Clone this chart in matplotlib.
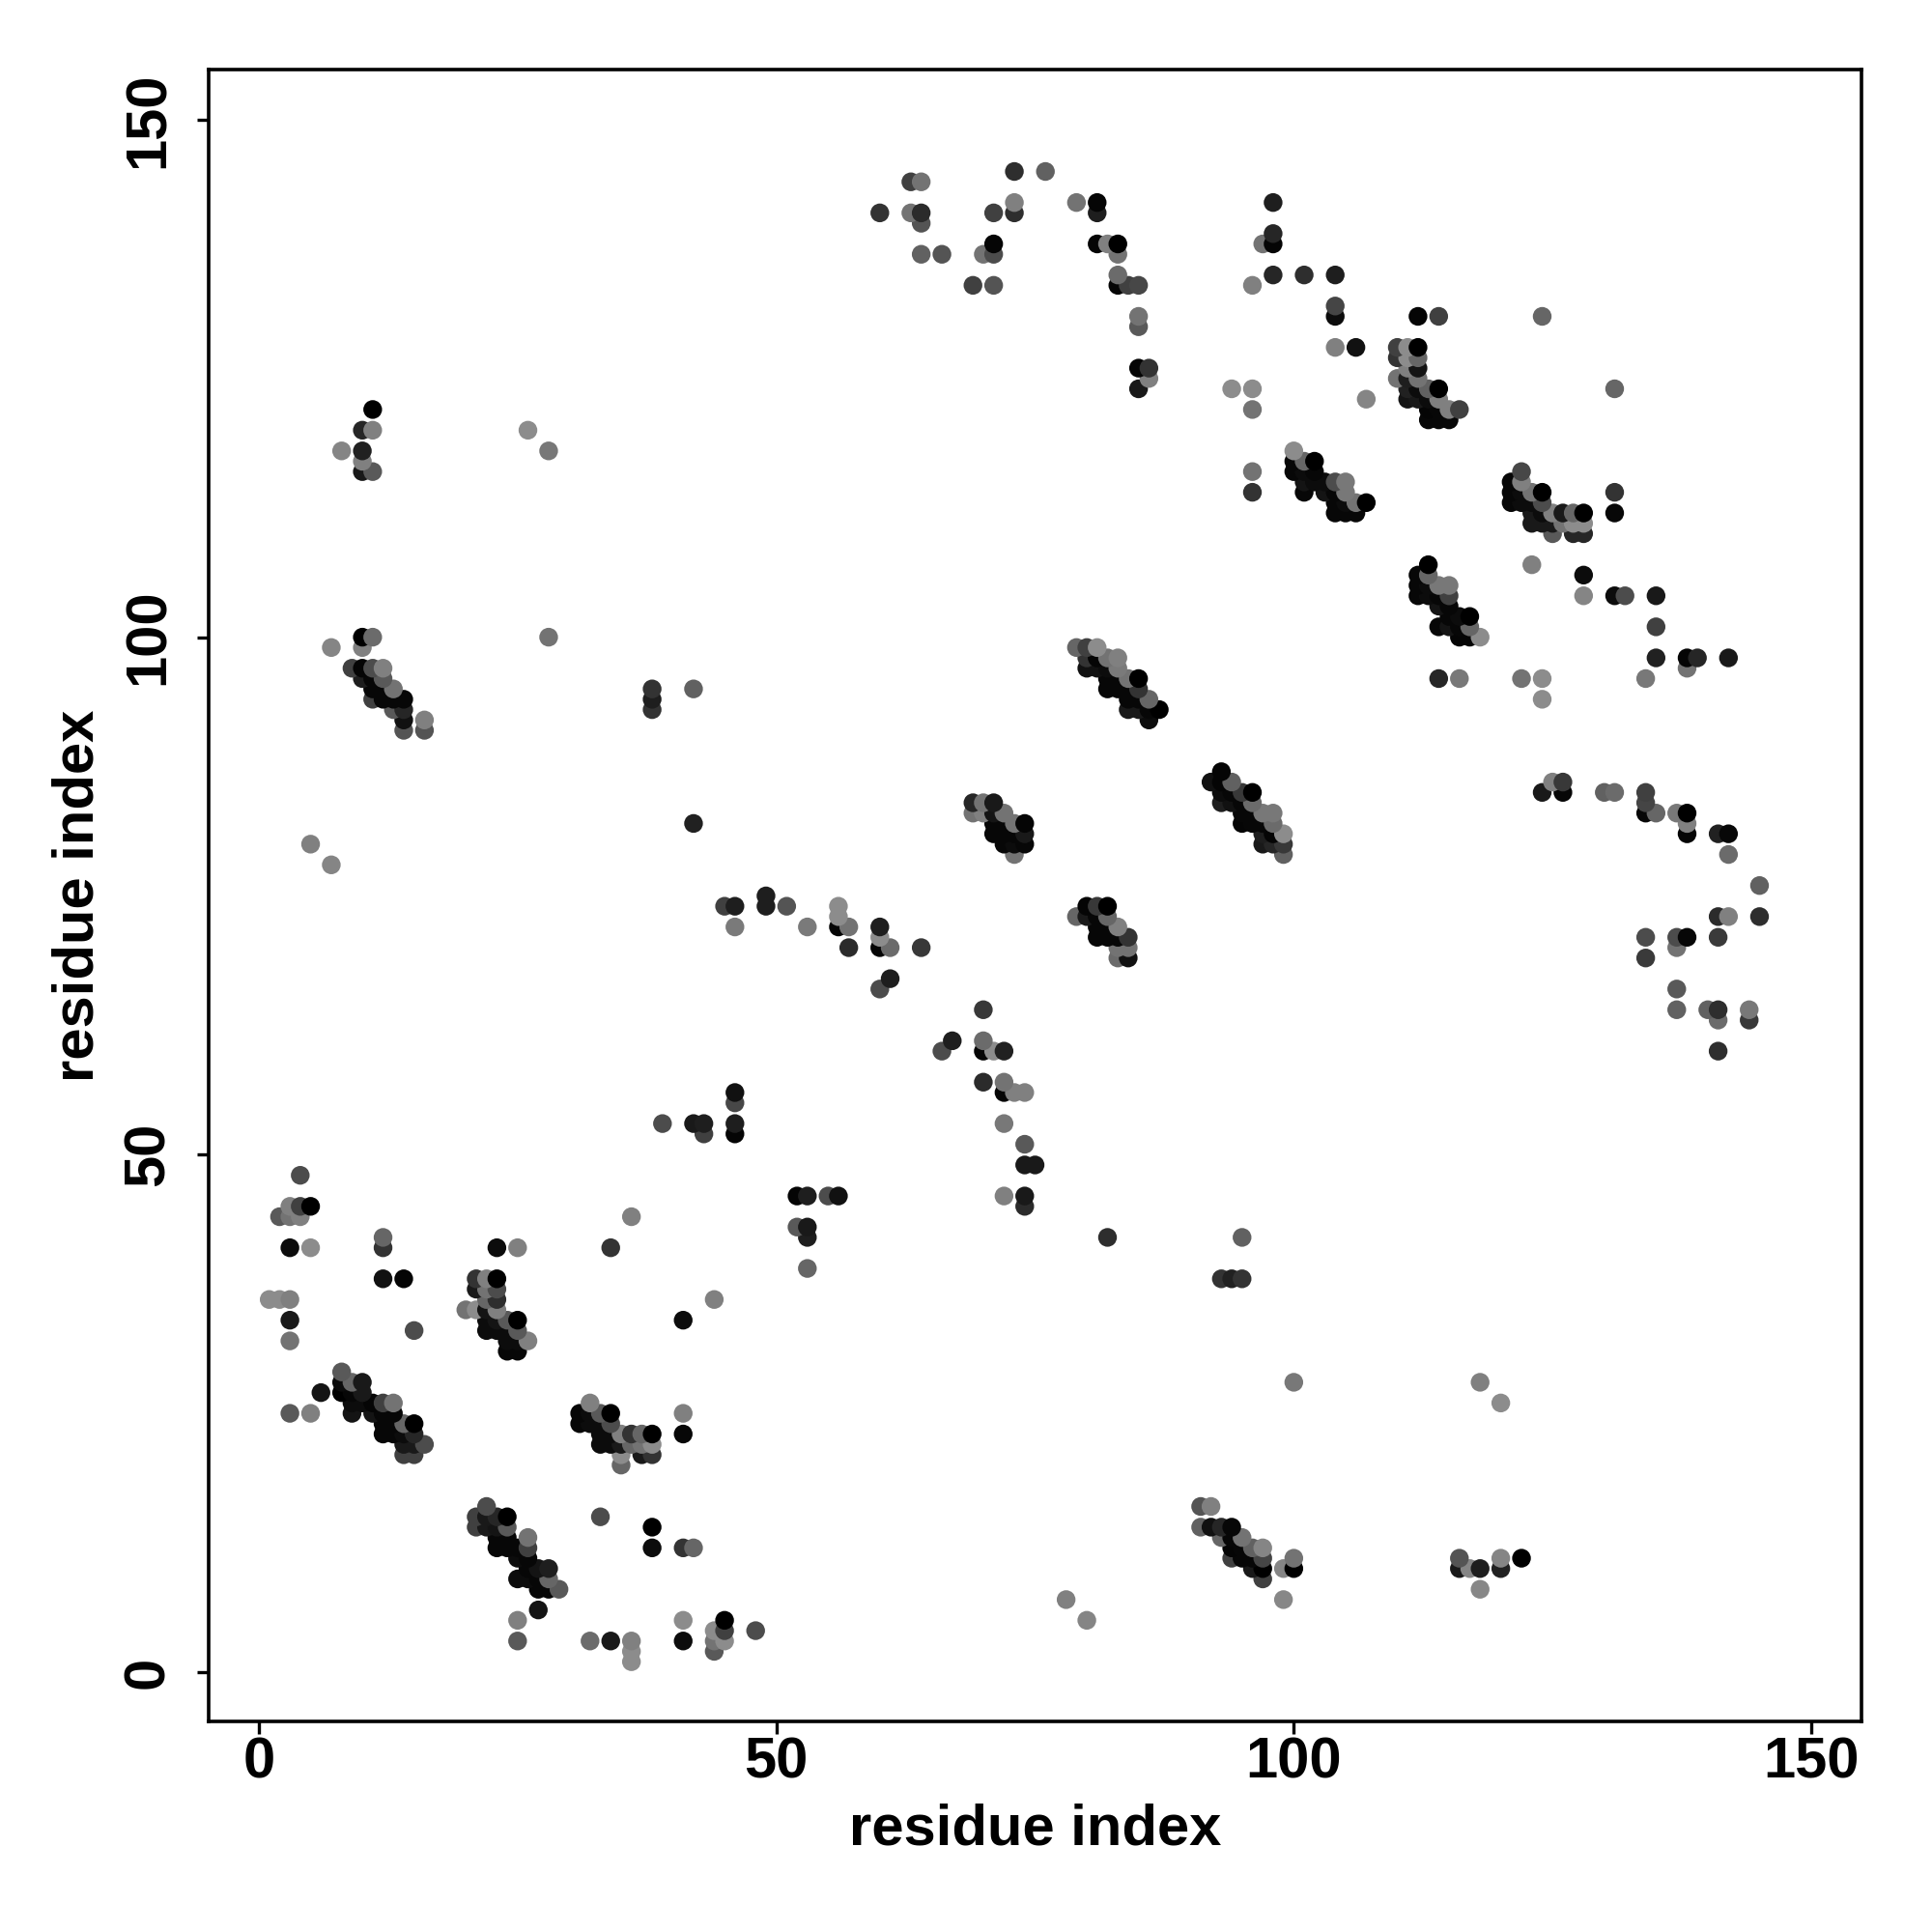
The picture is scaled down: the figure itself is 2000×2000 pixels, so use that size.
import numpy as np
import matplotlib
matplotlib.use('Agg')
import matplotlib.pyplot as plt

# contacts: (residue i, residue j, grey level)
strand_a = [(8,29,.35),(8,28,.05),(9,28,.4),(10,28,.1),(8,27,0),(9,27,.03),(10,27,.1),(9,26,.05),(10,26,.05),
            (11,26,.02),(12,26,.25),(13,26,.45),(9,25,.08),(11,25,.08),(12,25,.03),(13,25,.03),(12,24,.03),
            (13,24,.03),(14,24,.4),(15,24,0),(12,23,.03),(13,23,.03),(14,23,.05),(15,23,.15),(14,22,.1),
            (15,22,.1),(16,22,.3),(14,21,.25),(15,21,.25)]
strand_b = [(21,38,.2),(22,38,.5),(23,38,0),(21,37,.1),(22,37,.45),(23,37,.3),(22,36,.4),(23,36,.18),(20,35,.45),
            (21,35,.55),(22,35,.08),(23,35,.5),(22,34,.05),(23,34,.08),(24,34,.35),(25,34,0),(22,33,.05),
            (23,33,.05),(24,33,.05),(25,33,.35),(24,32,.05),(25,32,.05),(26,32,.5),(24,31,.03),(25,31,.03)]
strand_c = [(32,26,.5),(31,25,.03),(32,25,.05),(33,25,.35),(34,25,0),(31,24,.03),(32,24,.05),(33,24,.05),(34,24,.3),
            (33,23,.05),(34,23,.05),(35,23,.5),(36,23,.2),(37,23,.4),(38,23,0),(33,22,.05),(34,22,.05),(35,22,.1),
            (36,22,.4),(37,22,.45),(38,22,.55),(35,21,.55),(37,21,.1),(38,21,.2),(35,20,.4)]
strand_d = [(22,16,.3),(21,15,.25),(22,15,.1),(23,15,.15),(24,15,0),(21,14,.25),(22,14,.1),(23,14,.08),(24,14,.35),
            (23,13,.03),(24,13,.03),(26,13,.45),(23,12,.03),(24,12,.03),(25,12,.03),(26,12,.25),(25,11,.05),
            (26,11,.03),(26,10,.03),(27,10,.08),(28,10,.12),(25,9,.05),(26,9,.05),(27,9,.03),(28,9,.4),(27,8,.03),
            (28,8,.03),(29,8,.35)]
strand_e = [(9,97,.25),(10,97,.02),(11,97,.3),(12,97,.5),(10,96,.12),(11,96,.03),(12,96,.35),(11,95,.03),(12,95,.03),
            (13,95,.45),(11,94,.25),(12,94,.03),(13,94,.03),(14,94,.03),(13,93,.35),(14,93,.15),(14,92,.07),
            (16,92,.5),(14,91,.33),(16,91,.33)]
strand_f = [(79,99,.4),(80,99,.25),(81,99,.55),(80,98,.2),(81,98,.02),(82,98,.45),(83,98,.5),(80,97,.07),(81,97,.07),
            (82,97,.05),(83,97,.48),(82,96,.03),(83,96,.03),(84,96,.45),(85,96,0),(82,95,.03),(83,95,.03),(84,95,.03),
            (85,95,.2),(84,94,.03),(85,94,.03),(86,94,.4),(84,93,.1),(85,93,.1),(86,93,.03),(87,93,0),(86,92,.05)]
strand_g = [(93,87,.02),(92,86,.07),(93,86,.02),(94,86,.38),(93,85,.05),(94,85,.03),(95,85,.22),(96,85,0),(93,84,.12),
            (94,84,.07),(95,84,.03),(96,84,.42),(95,83,.03),(96,83,.03),(97,83,.47),(98,83,.47),(95,82,.02),(96,82,.03),
            (97,82,.03),(98,82,.42),(97,81,.12),(98,81,.02),(99,81,.55),(97,80,.1),(98,80,.15),(99,80,.22),(99,79,.38)]
strand_h = [(80,74,.02),(81,74,.22),(82,74,0),(79,73,.4),(80,73,.1),(81,73,.03),(82,73,.4),(81,72,.03),(82,72,.03),
            (83,72,.5),(81,71,.03),(82,71,.03),(83,71,.03),(84,71,.2),(83,70,.45),(84,70,.45),(83,69,.42),(84,69,.07)]
strand_i = [(69,84,.15),(70,84,.45),(71,84,.1),(69,83,.45),(70,83,.5),(71,83,.08),(72,83,.45),(71,82,.03),(72,82,.03),
            (73,82,.45),(74,82,.02),(71,81,.03),(72,81,.03),(73,81,.03),(74,81,.1),(72,80,.03),(73,80,.05),(74,80,.03),
            (73,79,.45)]
strand_j = [(110,128,.25),(111,128,.55),(112,128,0),(110,127,.2),(111,127,.55),(112,127,.4),(111,126,.5),(112,126,.08),
            (110,125,.45),(111,125,.12),(112,125,.45),(111,124,.13),(112,124,.05),(113,124,.38),(114,124,0),(111,123,.08),
            (112,123,.1),(113,123,.05),(114,123,.5),(113,122,.02),(114,122,.03),(115,122,.5),(116,122,.25),(113,121,.03),
            (114,121,.03),(115,121,.03)]
strand_k = [(100,118,.55),(100,117,.03),(101,117,.4),(102,117,0),(100,116,.03),(101,116,.05),(102,116,.03),(101,115,.08),
            (102,115,.05),(103,115,.05),(104,115,.3),(105,115,.47),(101,114,.03),(103,114,.08),(104,114,.03),(105,114,.47),
            (104,113,.03),(105,113,.05),(106,113,.45),(107,113,0),(104,112,.03),(105,112,.03),(106,112,.03)]
strand_l = [(122,116,.28),(121,115,.03),(122,115,.5),(121,114,.03),(122,114,.05),(123,114,.45),(124,114,0),(121,113,.03),
            (122,113,.05),(123,113,.05),(124,113,.3),(123,112,.1),(124,112,.05),(125,112,.5),(126,112,.1),(127,112,.4),
            (128,112,0),(123,111,.1),(124,111,.1),(125,111,.1),(126,111,.45),(127,111,.55),(128,111,.55),(125,110,.35),
            (127,110,.15),(128,110,.15)]
strand_m = [(113,107,0),(112,106,.03),(113,106,.4),(112,105,.03),(113,105,.05),(114,105,.47),(115,105,.47),(112,104,.03),
            (113,104,.05),(114,104,.03),(115,104,.25),(114,103,.08),(115,103,.03),(115,102,.03),(116,102,.05),(117,102,0),
            (114,101,.03),(115,101,.08),(116,101,.03),(117,101,.4),(116,100,.02),(117,100,.02),(118,100,.55)]
strand_n = [(91,16,.33),(92,16,.5),(91,14,.38),(92,14,.07),(93,14,.15),(94,14,.03),(93,13,.4),(94,13,.03),(95,13,.45),
            (94,12,.02),(95,12,.03),(96,12,.38),(97,12,.52),(94,11,.25),(95,11,.03),(96,11,.03),(97,11,.27),(96,10,.1),
            (97,10,0),(97,9,.25),(99,10,.52),(100,10,0),(100,11,.45),(99,7,.53)]

lower_left = [(4,48,.3),(3,45,.5),(4,45,.25),(5,45,0),(2,44,.35),(3,44,.45),(4,44,.5),(3,41,.05),(5,41,.55),(12,42,.4),
              (12,41,.2),(12,38,.07),(14,38,.02),(23,41,.05),(25,41,.5),(34,41,.2),(1,36,.55),(2,36,.55),(3,36,.5),
              (3,34,.1),(3,32,.45),(15,33,.3),(6,27,.08),(3,25,.35),(5,25,.5),(36,44,.5),(41,34,.05),(44,36,.5),
              (41,25,.5),(41,23,.03),(33,15,.3),(38,14,0),(38,12,.05),(41,12,.2),(42,12,.4),(27,6,.08),(25,5,.5),
              (25,3,.35),(32,3,.42),(34,3,.1),(36,3,.5),(36,2,.55),(36,1,.55),(41,5,.55),(41,3,.05),(45,5,0),(44,4,.55),
              (45,4,.25),(48,4,.3),(44,3,.45),(45,3,.55),(44,2,.35)]
upper_left = [(11,122,0),(10,120,.15),(11,120,.5),(8,118,.52),(10,118,.13),(10,117,.5),(10,116,.1),(11,116,.35),
              (26,120,.55),(28,118,.47),(10,100,0),(11,100,.42),(28,100,.45),(7,99,.52),(10,99,.5),(38,95,.2),(38,94,.12),
              (38,93,.2),(42,95,.38),(42,82,.13),(5,80,.5),(7,78,.52)]
top_arc = [(73,145,.18),(76,145,.38),(63,144,.25),(64,144,.45),(73,142,.5),(73,141,.18),(79,142,.45),(81,142,.02),
           (81,141,.12),(60,141,.2),(63,141,.45),(64,141,.17),(64,140,.33),(71,141,.25),(64,137,.38),(66,137,.33),
           (71,138,.02),(71,137,.3),(70,137,.45),(81,138,.02),(82,138,.5),(83,138,0),(83,137,.45),(83,135,.42),
           (83,134,.02),(84,134,.25),(85,134,.28),(69,134,.25),(71,134,.33),(85,131,.45),(85,130,.35),(85,126,.02),
           (86,126,.2),(86,125,.5),(85,124,.1),(94,124,.55)]
top_right = [(98,142,.12),(98,139,.15),(98,138,.02),(97,138,.45),(98,135,.15),(101,135,.18),(104,135,.12),(96,134,.5),
             (104,132,.27),(104,131,.05),(112,131,.02),(114,131,.25),(124,131,.4),(104,128,.5),(106,128,.07),(96,124,.55),
             (96,122,.45),(107,123,.52),(131,124,.4),(96,116,.45),(96,114,.2),(131,114,.2),(131,112,.03),(123,107,.5),
             (128,106,.05),(128,104,.52),(131,104,.05),(132,104,.3),(135,104,.1),(135,101,.25),(114,96,.15),(116,96,.47),
             (122,96,.45),(124,96,.55),(124,94,.55),(134,96,.47),(135,98,.13),(138,98,.02),(139,98,.15),(142,98,.1),
             (138,97,.45)]
middle = [(45,74,.25),(46,74,.12),(49,75,.12),(49,74,.12),(51,74,.33),(56,74,.55),(56,73,.55),(46,72,.48),(53,72,.48),
          (56,72,.02),(57,72,.45),(60,72,.12),(60,71,.55),(60,70,.02),(61,70,.42),(57,70,.17),(64,70,.22),(61,67,.12),
          (60,66,.3),(70,64,.22),(67,61,.12),(66,60,.3),(70,61,.42),(70,60,.02),(71,60,.55),(72,60,.13),(70,57,.17),
          (72,57,.45),(72,56,.02),(73,56,.5),(74,56,.5),(72,53,.47),(74,51,.35),(74,49,.1),(75,49,.1),(72,46,.5),
          (74,46,.1),(74,45,.17),(46,56,.07),(46,55,.28),(46,53,.12),(46,52,.02),(39,53,.3),(42,53,.1),(43,53,.12),
          (43,52,.25),(52,46,.02),(53,46,.12),(55,46,.3),(56,46,.07),(52,43,.35),(53,43,.1),(53,42,.12),(53,39,.4)]
lower_right = [(82,42,.18),(95,42,.38),(93,38,.2),(94,38,.13),(95,38,.2),(100,28,.47),(118,28,.5),(120,26,.55),
               (78,7,.5),(80,5,.52),(116,11,.33),(116,10,.1),(117,10,.52),(118,10,.12),(120,11,.52),(120,10,.13),
               (122,11,0),(118,8,.53)]
right_arc = [(125,86,.5),(126,86,.22),(124,85,.1),(126,85,.03),(130,85,.38),(131,85,.42),(134,85,.25),(134,84,.27),
             (134,83,.03),(135,83,.4),(137,83,.47),(138,83,0),(138,82,.5),(138,81,.02),(141,81,.13),(142,81,.03),
             (142,79,.42),(145,76,.38),(141,73,.17),(142,73,.5),(145,73,.18),(134,71,.3),(137,71,.3),(138,71,.03),
             (137,70,.45),(141,71,.23),(134,69,.23),(137,66,.35),(137,64,.38),(140,64,.38),(141,64,.18),(141,63,.42),
             (144,64,.47),(144,63,.22),(141,60,.18)]

x_ticks = [0, 50, 100, 150]
y_ticks = [0, 50, 100, 150]

groups = [strand_a, strand_b, strand_c, strand_d, strand_e, strand_f, strand_g, strand_h, strand_i, strand_j,
          strand_k, strand_l, strand_m, strand_n, lower_left, upper_left, top_arc, top_right, middle,
          lower_right, right_arc]
contacts = np.array([p for g in groups for p in g])
# later rows sit on top: sort by j and then by i
contacts = contacts[np.lexsort((contacts[:, 0], contacts[:, 1]))]

plt.rcParams['font.family'] = ['Liberation Sans', 'DejaVu Sans']
plt.rcParams['font.weight'] = 'bold'

fig = plt.figure(figsize=(20, 20), dpi=100)
ax = fig.add_axes([216/2000, 1-1782/2000, (1927-216)/2000, (1782-72)/2000])
ax.scatter(contacts[:, 0], contacts[:, 1], c=contacts[:, 2], cmap='gray', vmin=0, vmax=1,
           s=195, linewidths=0)
ax.set_xlim(-4.85, 154.85)
ax.set_ylim(-4.77, 154.85)
ax.set_xticks(x_ticks)
ax.set_yticks(y_ticks)
ax.tick_params(length=9, width=2.4, labelsize=43)
ax.tick_params(axis='x', pad=2)
ax.tick_params(axis='y', pad=16)
plt.setp(ax.get_yticklabels(), rotation=90, va='center')
for s in ax.spines.values():
    s.set_linewidth(2.6)
ax.set_xlabel('residue index', fontsize=43, fontweight='bold', labelpad=10)
ax.set_ylabel('residue index', fontsize=43, fontweight='bold', labelpad=13)

fig.savefig('out.png', dpi=100, facecolor='white')
